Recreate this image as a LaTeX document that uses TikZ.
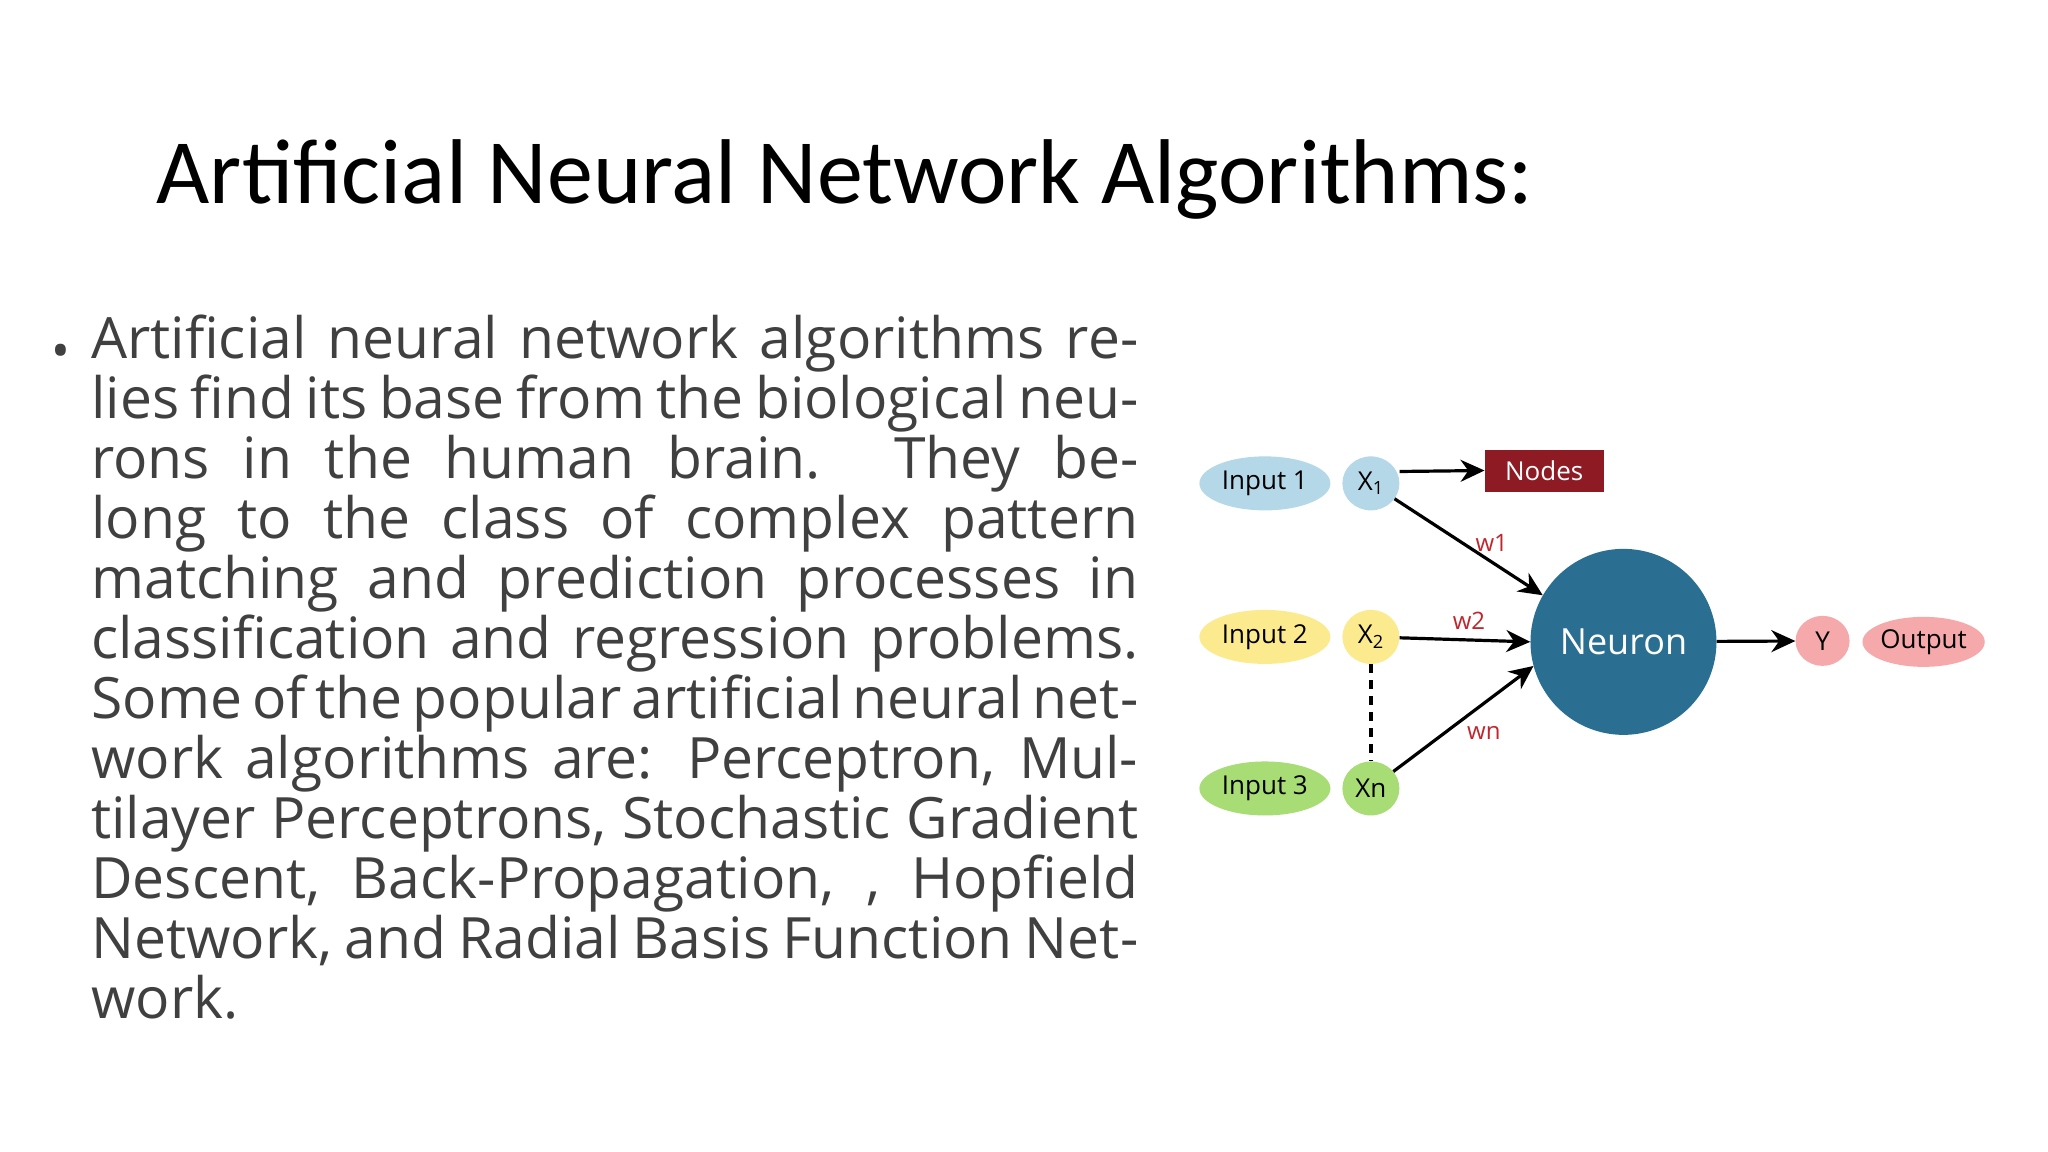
\documentclass[tikz,border=0pt]{standalone}
\usepackage{fontspec}
\setmainfont{Open Sans}
\newfontfamily\titlefont{Carlito}
\newfontfamily\diafont{Open Sans}
\usetikzlibrary{arrows.meta,shapes.geometric}
\definecolor{cblue}{HTML}{B5D8E8}
\definecolor{cyellow}{HTML}{FCEB8E}
\definecolor{cgreen}{HTML}{A8DC74}
\definecolor{cneuron}{HTML}{2A6F92}
\definecolor{cpink}{HTML}{F6A9AB}
\definecolor{cnodes}{HTML}{8E1B24}
\definecolor{cw}{HTML}{C0262C}
\definecolor{ctext}{HTML}{404040}
\begin{document}
\begin{tikzpicture}[x=0.9905pt,y=-0.9905pt,
  ell/.style={ellipse,inner sep=0pt,font=\diafont\fontsize{26}{30}\selectfont},
  inp/.style={ell,minimum width=131,minimum height=54},
  xn/.style={ell,minimum width=57,minimum height=54},
  arr/.style={-{Stealth[length=24,width=22]},line width=3.2},
  wl/.style={text=cw,font=\diafont\fontsize{24}{28}\selectfont}]
\useasboundingbox (0,0) rectangle (2067.6,1163);
\fill[white] (0,0) rectangle (2067.6,1163);
\node[anchor=base west,inner sep=0pt,font=\titlefont\fontsize{92}{100}\selectfont,text=black] (title) at (158,205) {Artificial Neural Network Algorithms:};
\node[anchor=base west,inner sep=0pt,font=\fontsize{50}{60}\selectfont,text=ctext] (bullet) at (52,372) {\textbullet};
\node[anchor=north west,inner sep=0pt,text width=1047,align=justify,font=\fontsize{57}{60}\selectfont,text=ctext] (body) at (92,318) {\hyphenpenalty=10000\relax\exhyphenpenalty=10000\relax Artificial neural network algorithms relies find its base from the biological neurons in the human brain. They belong to the class of complex pattern matching and prediction processes in classification and regression problems. Some of the popular artificial neural network algorithms are: Perceptron, Multilayer Perceptrons, Stochastic Gradient Descent, Back-Propagation, , Hopfield Network, and Radial Basis Function Network.};
\node[inp,fill=cblue] (in1) at (1277,488) {Input 1};
\node[inp,fill=cyellow] (in2) at (1277,643) {Input 2};
\node[inp,fill=cgreen] (in3) at (1277,796) {Input 3};
\node[xn,fill=cblue] (x1) at (1384,488) {X\textsubscript{1}};
\node[xn,fill=cyellow] (x2) at (1384,643) {X\textsubscript{2}};
\node[xn,fill=cgreen] (x3) at (1384,796) {Xn};
\node[rectangle,fill=cnodes,text=white,minimum width=119,minimum height=42,inner sep=0pt,font=\diafont\fontsize{26}{30}\selectfont] (nodes) at (1559,475) {Nodes};
\node[circle,fill=cneuron,text=white,minimum size=186,inner sep=0pt,font=\diafont\fontsize{36}{42}\selectfont] (neuron) at (1639,648) {Neuron};
\node[ell,fill=cpink,minimum width=54,minimum height=50] (y) at (1840,647) {Y};
\node[ell,fill=cpink,minimum width=120,minimum height=50] (out) at (1942,648) {Output};
\coordinate (x1e) at (1413,476);
\draw[arr] (x1e) -- (nodes.west);
\draw[arr] (x1) -- (neuron.150);
\draw[arr] (x2) -- (neuron.west);
\draw[arr] (x3) -- (neuron.-165);
\draw[arr] (neuron) -- (y);
\draw[line width=3.2,dash pattern=on 9 off 7] (x2) -- (x3);
\node[wl] (w1) at (1506,548) {w1};
\node[wl] (w2) at (1483,627) {w2};
\node[wl] (wn) at (1498,740) {wn};
\end{tikzpicture}
\end{document}
